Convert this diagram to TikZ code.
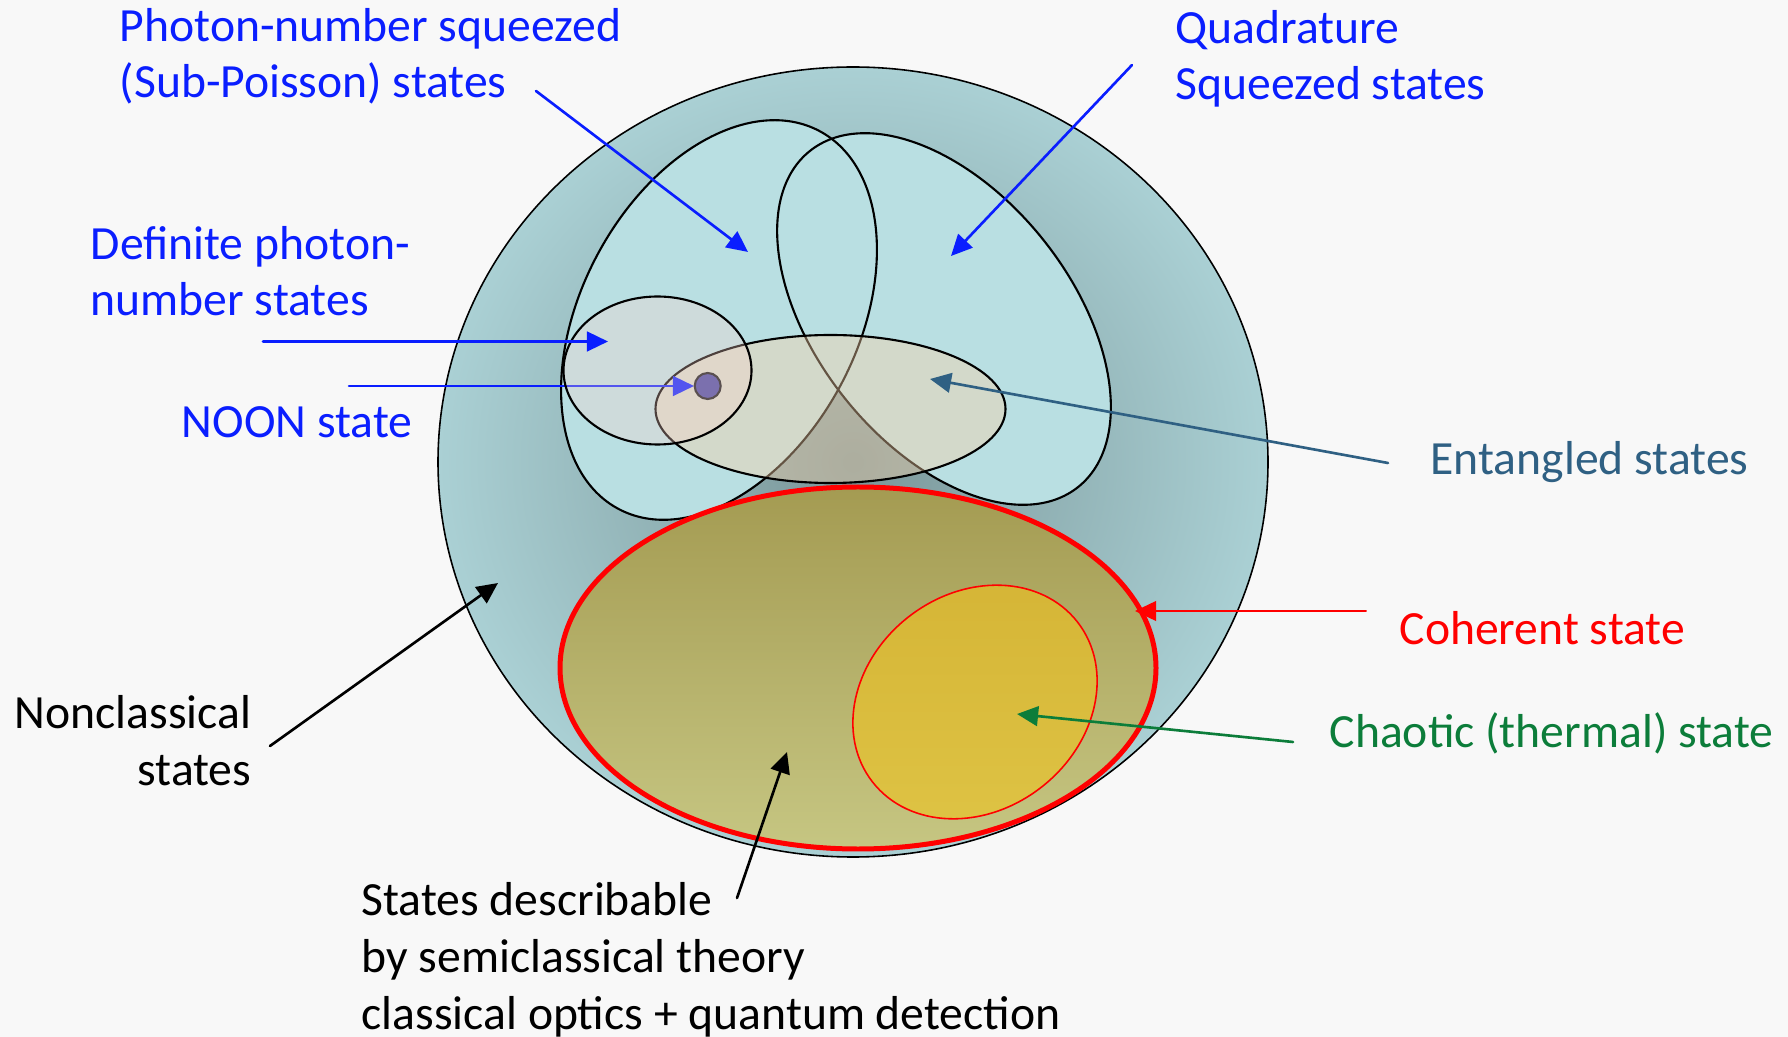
\documentclass[tikz,border=0pt]{standalone}
\usepackage{fontspec}
\setmainfont{Carlito}
\usetikzlibrary{arrows.meta}

\definecolor{paper}{RGB}{248,248,248}
\definecolor{tealout}{RGB}{170,208,212}
\definecolor{tealin}{RGB}{122,150,153}
\definecolor{lobecyan}{RGB}{185,223,226}
\definecolor{entbeige}{RGB}{250,210,168}
\definecolor{defpink}{RGB}{255,213,203}
\definecolor{noonfill}{RGB}{123,112,174}
\definecolor{noonrim}{RGB}{90,80,80}
\definecolor{olivetop}{RGB}{164,155,82}
\definecolor{olivebot}{RGB}{198,198,130}
\definecolor{goldtop}{RGB}{213,181,54}
\definecolor{goldbot}{RGB}{222,195,68}
\definecolor{lblue}{RGB}{10,30,255}
\definecolor{lslate}{RGB}{47,96,131}
\definecolor{lgreen}{RGB}{12,125,58}

\begin{document}
\begin{tikzpicture}[x=0.01cm, y=-0.01cm, >={Triangle[length=6pt,width=5.6pt]}, line cap=round,
    lbl/.style={inner sep=0pt, anchor=base west, align=left,
                font=\fontsize{13.55}{16.13}\selectfont},
    pointer/.style={->, line width=0.75pt}]
    \useasboundingbox (0,0) rectangle (1788,1037);
    \fill[paper] (0,0) rectangle (1788,1037);

    % ---- all states: the big disc ----
    \shade[inner color=tealin, outer color=tealout] (853,462) ellipse [x radius=415, y radius=395];
    \draw[line width=0.45pt] (853,462) ellipse [x radius=415, y radius=395];

    % ---- the two squeezed lobes ----
    \fill[lobecyan, rotate around={62:(719,320)}] (719,320) ellipse [x radius=214, y radius=138];
    \fill[lobecyan, rotate around={-51.4:(944,319)}] (944,319) ellipse [x radius=215, y radius=127];
    \draw[line width=0.6pt, rotate around={62:(719,320)}] (719,320) ellipse [x radius=214, y radius=138];
    \draw[line width=0.6pt, rotate around={-51.4:(944,319)}] (944,319) ellipse [x radius=215, y radius=127];

    % ---- entangled states ----
    \fill[entbeige, fill opacity=0.4] (830.5,409) ellipse [x radius=175, y radius=74];
    \draw[line width=0.6pt] (830.5,409) ellipse [x radius=175, y radius=74];

    % NOON pointer runs under the photon-number disc
    \coordinate (noon-from) at (349,386);
    \coordinate (noon-to) at (694,386);
    \draw[pointer, lblue] (noon-from) -- (noon-to);

    % ---- definite photon-number states ----
    \fill[defpink, fill opacity=0.3] (657.5,370.5) ellipse [x radius=94, y radius=74];
    \draw[line width=0.6pt] (657.5,370.5) ellipse [x radius=94, y radius=74];
    \filldraw[fill=noonfill, draw=noonrim, line width=0.6pt] (707.7,386) circle (13);

    % ---- coherent and chaotic states ----
    \shade[top color=olivetop, bottom color=olivebot] (858,668) ellipse [x radius=298, y radius=181];
    \draw[red, line width=1.42pt] (858,668) ellipse [x radius=298, y radius=181];
    \shade[top color=goldtop, bottom color=goldbot, rotate around={38:(975,702)}] (975,702) ellipse [x radius=130, y radius=108];
    \draw[red, line width=0.45pt, rotate around={38:(975,702)}] (975,702) ellipse [x radius=130, y radius=108];

    % ---- labels (base = last line) ----
    \node[lbl, text=lblue] (pnsq) at (119,98) {Photon-number squeezed\\(Sub-Poisson) states};
    \node[lbl, text=lblue] (quad) at (1175,100) {Quadrature\\Squeezed states};
    \node[lbl, text=lblue] (defn) at (90,316) {Definite photon-\\number states};
    \node[lbl, text=lblue] (noon) at (181,438) {NOON state};
    \node[lbl, text=lslate] (entg) at (1430,475) {Entangled states};
    \node[lbl, text=red] (cohr) at (1399,645) {Coherent state};
    \node[lbl, text=lgreen] (chao) at (1329,748) {Chaotic (thermal) state};
    \node[lbl, anchor=base east, align=right] (ncls) at (252,785) {Nonclassical\\states};
    \node[lbl] (semi) at (361,1029) {States describable\\by semiclassical theory\\classical optics + quantum detection};

    % ---- pointers ----
    \coordinate (pnsq-from) at (536,91);
    \coordinate (pnsq-to) at (748,252);
    \coordinate (quad-from) at (1132,65);
    \coordinate (quad-to) at (951,256);
    \coordinate (defn-from) at (263,341.5);
    \coordinate (defn-to) at (608,341.5);
    \coordinate (entg-from) at (1388,463);
    \coordinate (entg-to) at (930,379);
    \coordinate (cohr-from) at (1366,611);
    \coordinate (cohr-to) at (1135,611);
    \coordinate (chao-from) at (1293,742);
    \coordinate (chao-to) at (1017,714);
    \coordinate (ncls-from) at (270,746);
    \coordinate (ncls-to) at (498,583);
    \coordinate (semi-from) at (737,898);
    \coordinate (semi-to) at (787,752);
    \draw[pointer, lblue] (pnsq-from) -- (pnsq-to);
    \draw[pointer, lblue] (quad-from) -- (quad-to);
    \draw[pointer, lblue] (defn-from) -- (defn-to);
    \draw[pointer, lslate] (entg-from) -- (entg-to);
    \draw[pointer, red, line width=0.55pt] (cohr-from) -- (cohr-to);
    \draw[pointer, lgreen] (chao-from) -- (chao-to);
    \draw[pointer] (ncls-from) -- (ncls-to);
    \draw[pointer] (semi-from) -- (semi-to);
\end{tikzpicture}
\end{document}
